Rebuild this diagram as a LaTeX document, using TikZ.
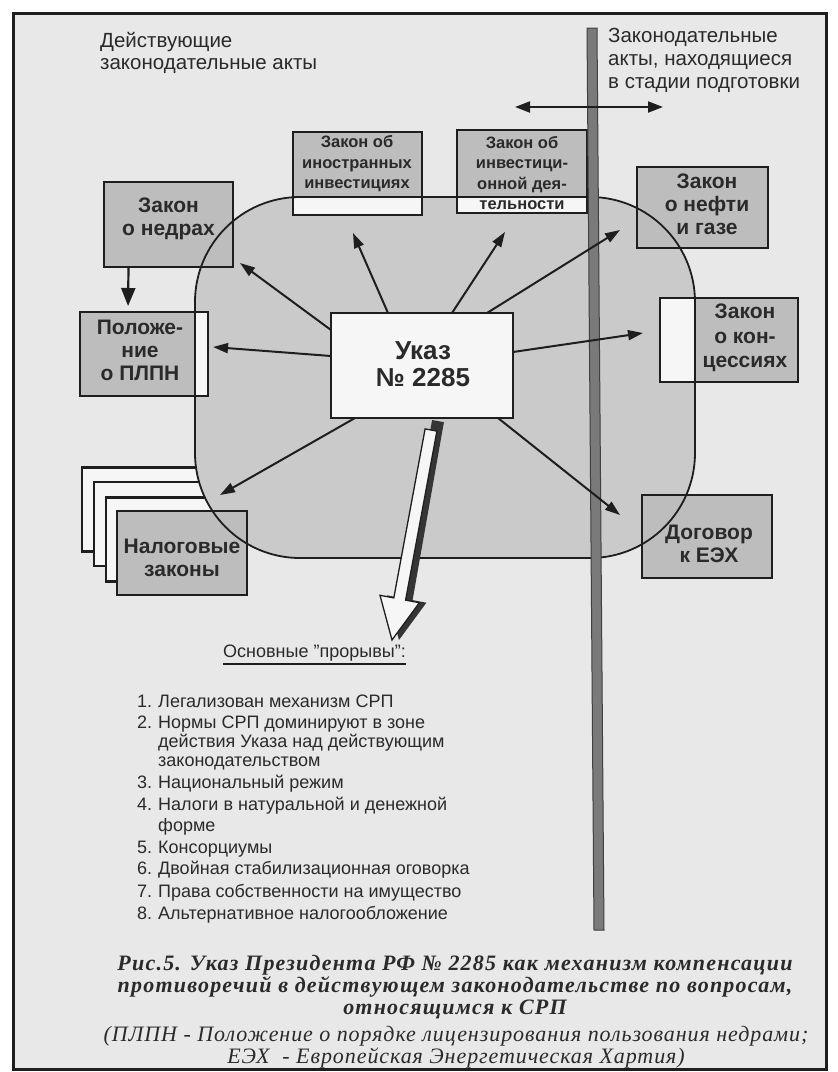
\documentclass[tikz,border=0pt]{standalone}
\usepackage{fontspec}
\setmainfont{Liberation Sans}
\newfontfamily\capfont[LetterSpace=5.5]{Liberation Serif}
\newfontfamily\capifont[LetterSpace=4.2]{Liberation Serif}
\usetikzlibrary{arrows.meta,calc}
\definecolor{bg}{HTML}{E8E8E8}
\definecolor{blobc}{HTML}{CACACA}
\definecolor{boxc}{HTML}{BDBDBD}
\definecolor{ink}{HTML}{1E1E1E}
\definecolor{txt}{HTML}{2A2A2A}
\definecolor{barc}{HTML}{7A7A7A}
\definecolor{paper}{HTML}{F6F6F6}
\begin{document}
\begin{tikzpicture}[x=1pt,y=-1pt,
  shapebox/.style={draw=ink,line width=2.2pt,fill=boxc,inner sep=0pt,outer sep=0pt},
  whitein/.style={path picture={\clip[rounded corners=105pt] (blob.north west) rectangle (blob.south east);
      \fill[paper] (path picture bounding box.south west) rectangle (path picture bounding box.north east);}},
  bigtxt/.style={font=\bfseries\fontsize{21}{23}\selectfont,align=center,text=txt,inner sep=0pt},
  smalltxt/.style={font=\bfseries\fontsize{16.5}{20.5}\selectfont,align=center,text=txt,inner sep=0pt},
  lbl/.style={font=\fontsize{20.5}{22}\selectfont,text=txt,inner sep=0pt,anchor=base west},
  itm/.style={font=\fontsize{18}{20}\selectfont,text=txt,inner sep=0pt,anchor=base west},
  capb/.style={font=\capfont\bfseries\itshape\fontsize{22}{23}\selectfont,text=txt,inner sep=0pt,anchor=base},
  capi/.style={font=\capifont\itshape\fontsize{22}{23}\selectfont,text=txt,inner sep=0pt,anchor=base},
  arr/.style={draw=ink,line width=2pt,-{Triangle[length=15pt,width=10pt]}}
]
\useasboundingbox (0,0) rectangle (838,1072);
\fill[white] (0,0) rectangle (838,1072);
\fill[bg] (13,13) rectangle (826,1069);

% back frames of tax laws
\node[shapebox,fill=paper,minimum width=130pt,minimum height=84pt] (f1) at (147,509.5) {};
\node[shapebox,fill=paper,minimum width=130pt,minimum height=84pt] (f2) at (159,524) {};
\node[shapebox,fill=paper,minimum width=130pt,minimum height=84pt] (f3) at (171,539.5) {};

% blob
\node[fill=blobc,rounded corners=105pt,minimum width=500pt,minimum height=361pt,inner sep=0pt,outer sep=0pt] (blob) at (445,377.5) {};

% boxes
\node[shapebox,minimum width=129pt,minimum height=85pt] (nedra) at (168.5,224.5) {};
\node[shapebox,whitein,minimum width=128pt,minimum height=84pt] (polozh) at (144,354) {};
\node[shapebox,minimum width=130pt,minimum height=84pt] (nalog) at (182,553) {};
\node[shapebox,whitein,minimum width=129pt,minimum height=83pt] (inostr) at (357.5,173.5) {};
\node[shapebox,whitein,minimum width=130pt,minimum height=83pt] (invest) at (522,171.5) {};
\node[shapebox,minimum width=131pt,minimum height=81pt] (neft) at (702.5,207.5) {};
\node[shapebox,whitein,minimum width=138pt,minimum height=84pt] (konc) at (729,340) {};
\node[shapebox,minimum width=130pt,minimum height=83pt] (dogovor) at (707,536.5) {};

% blob outline
\draw[ink,line width=1.8pt,rounded corners=105pt] (blob.north west) rectangle (blob.south east);

% box texts
\node[bigtxt] (tnedra) at (168.5,219) {Закон\\о недрах};
\node[bigtxt] (tpolozh) at (140,350) {Положе-\\ние\\о ПЛПН};
\node[bigtxt] (tnalog) at (182,558) {Налоговые\\законы};
\node[smalltxt] (tinostr) at (357,164) {Закон об\\иностранных\\инвестициях};
\node[smalltxt] (tinvest) at (522,173) {Закон об\\инвестици-\\онной дея-\\тельности};
\node[bigtxt] (tneft) at (707,204) {Закон\\о нефти\\и газе};
\node[bigtxt,font=\bfseries\fontsize{21}{24.5}\selectfont] (tkonc) at (745,338) {Закон\\о кон-\\цессиях};
\node[bigtxt] (tdog) at (709,544) {Договор\\к ЕЭХ};

% vertical bar
\filldraw[fill=barc,draw=ink!85,line width=1pt] (587,28) -- (597,28) -- (604,930) -- (594,930) -- cycle;

% labels
\node[lbl] (l1) at (100,47) {Действующие};
\node[lbl] (l2) at (100,69) {законодательные акты};
\node[lbl] (r1) at (608,42) {Законодательные};
\node[lbl] (r2) at (608,65) {акты, находящиеся};
\node[lbl] (r3) at (608,88) {в стадии подготовки};

% double arrow
\coordinate (dl) at (515,107);
\coordinate (dr) at (663,107);
\draw[draw=ink,line width=2pt,{Triangle[length=15pt,width=11pt]}-{Triangle[length=15pt,width=11pt]}] (dl) -- (dr);

% central decree
\node[draw=ink,line width=2.2pt,fill=paper,minimum width=182pt,minimum height=105pt,inner sep=0pt,outer sep=0pt] (ukaz) at (422,365.5) {};
\node[font=\bfseries\fontsize{26}{27}\selectfont,align=center,text=txt,inner sep=0pt] (tukaz) at (423,364) {Указ\\№ 2285};

% arrow end points
\coordinate (cnedra) at (240,263);
\coordinate (cinostr) at (353,233);
\coordinate (cinvest) at (505,232);
\coordinate (cneft) at (620,230);
\coordinate (cpolozh) at (213,347);
\coordinate (ckonc) at (643,333);
\coordinate (cnalog) at (220,495);
\coordinate (cdog) at (620,515);

\draw[arr] ([yshift=-17pt]ukaz.north west) -- (cnedra);
\draw[arr] ([xshift=57pt]ukaz.north west) -- (cinostr);
\draw[arr] ([xshift=121pt]ukaz.north west) -- (cinvest);
\draw[arr] ([xshift=-26pt]ukaz.north east) -- (cneft);
\draw[arr] ([yshift=-43pt]ukaz.north west) -- (cpolozh);
\draw[arr] ([yshift=-39pt]ukaz.north east) -- (ckonc);
\draw[arr] ([xshift=24pt]ukaz.south west) -- (cnalog);
\draw[arr] ([xshift=-15pt]ukaz.south east) -- (cdog);

% nedra -> polozh
\draw[draw=ink,line width=2.2pt,-{Triangle[length=18pt,width=14pt]},shorten >=6pt] ([xshift=-40pt]nedra.south) -- ([xshift=-16pt]polozh.north);

% big hollow arrow with shadow
\fill[ink!90] (432.1,420) -- (443.9,422.2) -- (412.6,600.1) -- (426.4,602.7) -- (399,640) -- (387,595.3) -- (400.8,597.9) -- cycle;
\filldraw[fill=paper,draw=ink,line width=1.3pt] (425.1,428.9) -- (436.9,431.1) -- (405.6,600.1) -- (419.4,602.7) -- (392,640) -- (380,595.3) -- (393.8,597.9) -- cycle;

% main breakthroughs
\node[itm] (osn) at (223,657) {Основные "прорывы":};
\draw[ink,line width=2.5pt] ([yshift=-3pt]osn.south west) -- ([yshift=-3pt]osn.south east);

\node[itm] (n1) at (137,707) {1.};
\node[itm] (i1) at (158,707) {Легализован механизм СРП};
\node[itm] (n2) at (137,728) {2.};
\node[itm] (i2a) at (158,728) {Нормы СРП доминируют в зоне};
\node[itm] (i2b) at (158,747) {действия Указа над действующим};
\node[itm] (i2c) at (158,766) {законодательством};
\node[itm] (n3) at (137,788) {3.};
\node[itm] (i3) at (158,788) {Национальный режим};
\node[itm] (n4) at (137,810) {4.};
\node[itm] (i4a) at (158,810) {Налоги в натуральной и денежной};
\node[itm] (i4b) at (158,831) {форме};
\node[itm] (n5) at (137,853) {5.};
\node[itm] (i5) at (158,853) {Консорциумы};
\node[itm] (n6) at (137,874) {6.};
\node[itm] (i6) at (158,874) {Двойная стабилизационная оговорка};
\node[itm] (n7) at (137,897) {7.};
\node[itm] (i7) at (158,897) {Права собственности на имущество};
\node[itm] (n8) at (137,919) {8.};
\node[itm] (i8) at (158,919) {Альтернативное налогообложение};

% caption
\node[capb] (c1) at (455,970) {Рис.5. Указ Президента РФ № 2285 как механизм компенсации};
\node[capb] (c2) at (455,992) {противоречий в действующем законодательстве по вопросам,};
\node[capb] (c3) at (455,1014) {относящимся к СРП};
\node[capi] (c4) at (456,1041) {(ПЛПН - Положение о порядке лицензирования пользования недрами;};
\node[capi] (c5) at (456,1063) {ЕЭХ\ \ - Европейская Энергетическая Хартия)};

% frame
\draw[ink,line width=3pt] (13,13) rectangle (826,1069);
\end{tikzpicture}
\end{document}
